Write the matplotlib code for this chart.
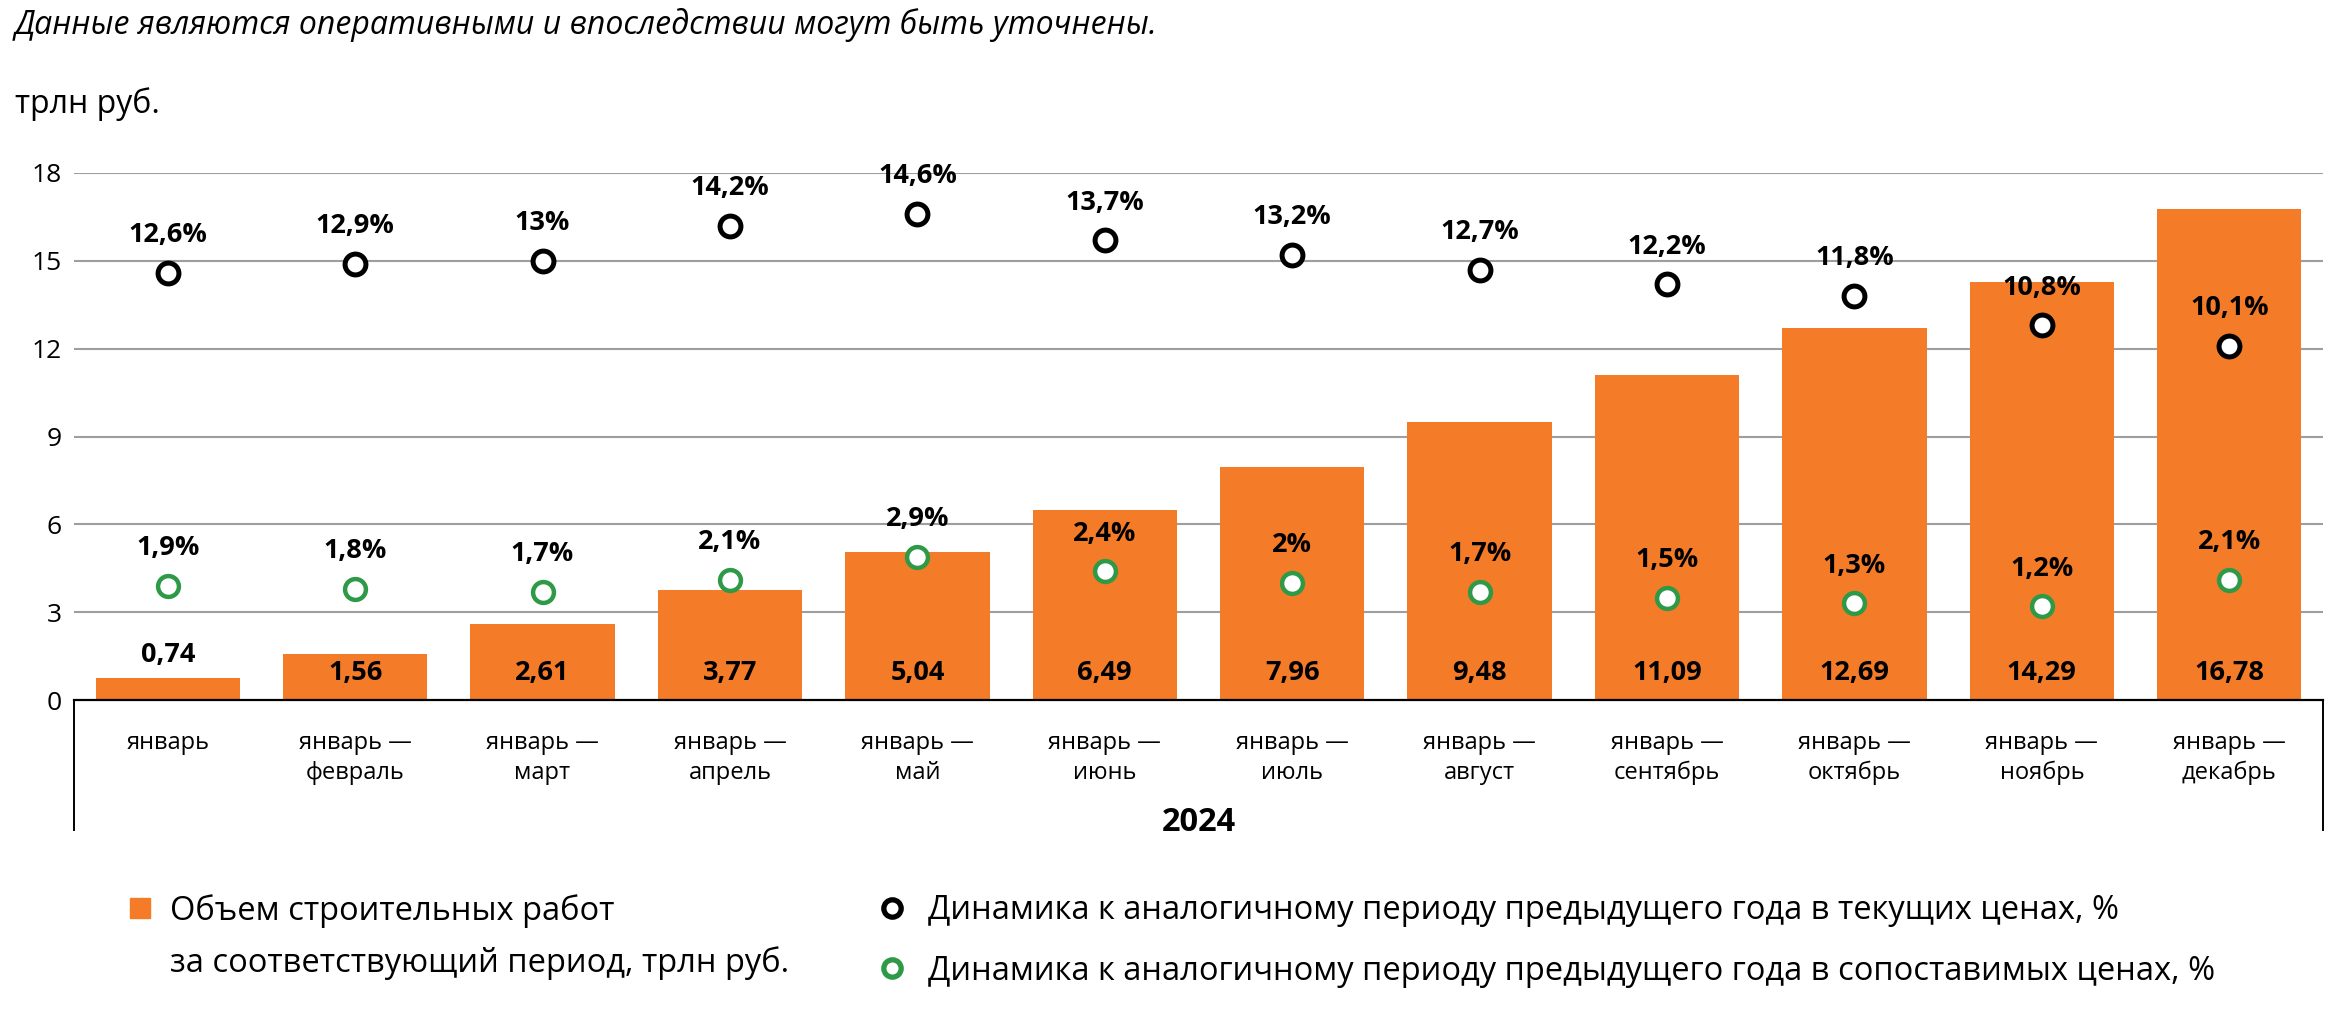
import matplotlib
matplotlib.use("Agg")
import matplotlib.pyplot as plt
from matplotlib.lines import Line2D

plt.rcParams["font.family"] = ["Open Sans", "DejaVu Sans"]

ORANGE = "#F47B28"
GREEN = "#2E9A47"
GRID = "#9E9E9E"

periods = [
    "январь", "январь —\nфевраль", "январь —\nмарт", "январь —\nапрель",
    "январь —\nмай", "январь —\nиюнь", "январь —\nиюль", "январь —\nавгуст",
    "январь —\nсентябрь", "январь —\nоктябрь", "январь —\nноябрь", "январь —\nдекабрь",
]
volume = [0.74, 1.56, 2.61, 3.77, 5.04, 6.49, 7.96, 9.48, 11.09, 12.69, 14.29, 16.78]
growth_current = [12.6, 12.9, 13.0, 14.2, 14.6, 13.7, 13.2, 12.7, 12.2, 11.8, 10.8, 10.1]
growth_real = [1.9, 1.8, 1.7, 2.1, 2.9, 2.4, 2.0, 1.7, 1.5, 1.3, 1.2, 2.1]
year_label = "2024"
y_ticks = [0, 3, 6, 9, 12, 15, 18]


def fmt(v, pct=False):
    s = f"{v:g}".replace(".", ",")
    return s + "%" if pct else s


fig = plt.figure(figsize=(23.36, 10.14), dpi=100)
ax = fig.add_axes([74 / 2336, 1 - 700 / 1014, (2323 - 74) / 2336, (700 - 173) / 1014])
x = list(range(len(periods)))

ax.bar(x, volume, width=0.77, color=ORANGE, zorder=2)
ax.set_xlim(-0.5, len(periods) - 0.5)
ax.set_ylim(0, 18)
ax.set_yticks(y_ticks)
ax.set_xticks(x)
ax.set_xticklabels(periods, fontsize=17, linespacing=1.35)
ax.tick_params(axis="x", length=0, pad=22)
ax.tick_params(axis="y", length=0, pad=9, labelsize=19)
for t in y_ticks[1:]:
    ax.axhline(t, color=GRID, lw=1.5, zorder=1)
for s in ["top", "right", "left"]:
    ax.spines[s].set_visible(False)
ax.spines["bottom"].set_linewidth(1.6)
ax.spines["bottom"].set_zorder(3)

# category box below the axis
tr = ax.get_xaxis_transform()
for xe in ax.get_xlim():
    ax.plot([xe, xe], [0, -0.247], transform=tr, color="black", lw=1.4, clip_on=False)
ax.text(0.5, -0.232, year_label, transform=ax.transAxes, ha="center", va="center",
        fontsize=23.5, fontweight="bold")

# bar value labels
for i, v in enumerate(volume):
    if v > 1.2:
        ax.text(i, 0.92, fmt(v), ha="center", va="center", fontsize=19.5, fontweight="bold", zorder=4)
    else:
        ax.annotate(fmt(v), (i, v), xytext=(0, 17), textcoords="offset points",
                    ha="center", va="center", fontsize=19.5, fontweight="bold")

# growth markers on a hidden secondary axis
ax2 = ax.twinx()
ax2.set_ylim(-2, 16)
ax2.axis("off")
ax2.plot(x, growth_current, ls="", marker="o", ms=15, mew=3.6, mec="black", mfc="white", zorder=5)
ax2.plot(x, growth_real, ls="", marker="o", ms=15, mew=3.2, mec=GREEN, mfc="white", zorder=5)
for i in x:
    for v in (growth_current[i], growth_real[i]):
        ax2.annotate(fmt(v, True), (i, v), xytext=(0, 27), textcoords="offset points",
                     ha="center", va="center", fontsize=19.5, fontweight="bold")

fig.text(15 / 2336, 1 - 25 / 1014, "Данные являются оперативными и впоследствии могут быть уточнены.",
         fontsize=23, style="italic", va="center", ha="left")
fig.text(15 / 2336, 1 - 104 / 1014, "трлн руб.", fontsize=23, va="center", ha="left")

# legend
h_bar = Line2D([], [], ls="", marker="s", ms=14, color=ORANGE)
h_none = Line2D([], [], ls="", marker="")
h_cur = Line2D([], [], ls="", marker="o", ms=12.5, mew=3.8, mec="black", mfc="white")
h_real = Line2D([], [], ls="", marker="o", ms=12.5, mew=3.8, mec=GREEN, mfc="white")
fig.legend([h_bar, h_none], ["Объем строительных работ", "за соответствующий период, трлн руб."],
           loc="upper left", bbox_to_anchor=(127 / 2336, 1 - 894 / 1014), frameon=False,
           fontsize=23.5, handlelength=0.8, handletextpad=0.52, labelspacing=0.55,
           borderpad=0, borderaxespad=0)
fig.legend([h_cur, h_real],
           ["Динамика к аналогичному периоду предыдущего года в текущих ценах, %",
            "Динамика к аналогичному периоду предыдущего года в сопоставимых ценах, %"],
           loc="upper left", bbox_to_anchor=(879 / 2336, 1 - 894 / 1014), frameon=False,
           fontsize=23.5, handlelength=0.8, handletextpad=0.7, labelspacing=0.85,
           borderpad=0, borderaxespad=0)

fig.savefig("out.png", dpi=100)
